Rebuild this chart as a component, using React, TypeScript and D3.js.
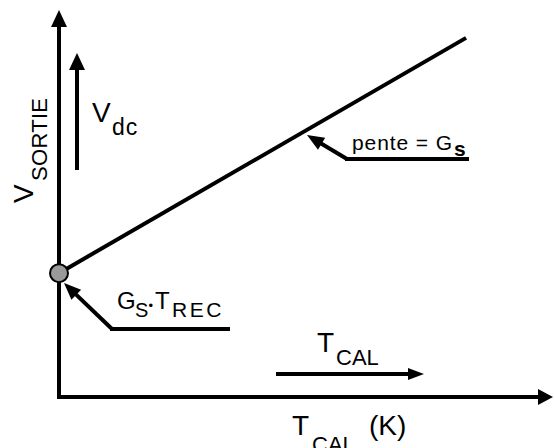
import React from "react";
import * as d3 from "d3";

// Output voltage vs calibration temperature: V = Gs * (T_CAL + T_REC)
const lineT = [0, 82.4];
const lineV = [32, 92.8];
const interceptT = [0];
const interceptV = [32];

const W = 554;
const H = 448;
const FONT = "'Liberation Sans', Arial, sans-serif";

const x = d3.scaleLinear().domain([0, 100]).range([59, 553]);
const y = d3.scaleLinear().domain([0, 100]).range([397, 10]);

const linePath = d3
  .line<number>()
  .x((_, i) => x(lineT[i]))
  .y((_, i) => y(lineV[i]))(lineT);

function Arrow({ x1, y1, x2, y2, head = 16, half = 8, sw = 4 }: any) {
  const ang = Math.atan2(y2 - y1, x2 - x1);
  const bx = x2 - head * Math.cos(ang);
  const by = y2 - head * Math.sin(ang);
  const px = -Math.sin(ang) * half;
  const py = Math.cos(ang) * half;
  return (
    <g>
      <line x1={x1} y1={y1} x2={bx + 2 * Math.cos(ang)} y2={by + 2 * Math.sin(ang)} stroke="#000" strokeWidth={sw} />
      <path d={`M${x2},${y2}L${bx + px},${by + py}L${bx - px},${by - py}Z`} fill="#000" />
    </g>
  );
}

export default function App() {
  const x0 = x(0);
  const y0 = y(0);
  return (
    <svg width={W} height={H} style={{ display: "block", position: "absolute", left: 0, top: 0 }} fontFamily={FONT}>
      <rect width={W} height={H} fill="#fff" />
      {/* axes */}
      <Arrow x1={x0} y1={y0 + 2} x2={x0} y2={y(100)} head={17} half={8} />
      <Arrow x1={x0 - 2} y1={y0} x2={x(100)} y2={y0} head={15} half={8} />

      {/* response line */}
      <path d={linePath!} stroke="#000" strokeWidth={4} fill="none" />
      {interceptT.map((t, i) => (
        <circle key={i} cx={x(t)} cy={y(interceptV[i])} r={9} fill="#999" stroke="#000" strokeWidth={2} />
      ))}

      {/* V_SORTIE axis label */}
      <g transform="translate(33,203) rotate(-90)">
        <text x={0} y={0} fontSize={28}>V</text>
        <text x={22} y={14} fontSize={22} letterSpacing={0.3}>SORTIE</text>
      </g>

      {/* V_dc arrow */}
      <Arrow x1={77} y1={170} x2={77} y2={53} head={17} half={8} />
      <text x={92} y={122} fontSize={28}>V</text>
      <text x={112} y={135} fontSize={23} letterSpacing={1}>dc</text>

      {/* slope annotation */}
      <Arrow x1={347} y1={159} x2={307} y2={135} head={17} half={7} />
      <line x1={345} y1={159} x2={469} y2={159} stroke="#000" strokeWidth={4} />
      <text x={352} y={150} fontSize={21} letterSpacing={0.9}>pente = G</text>
      <text x={454} y={156} fontSize={21} fontWeight="bold">s</text>

      {/* intercept annotation */}
      <Arrow x1={112} y1={329} x2={64} y2={283} head={17} half={7} />
      <line x1={110} y1={329} x2={230} y2={329} stroke="#000" strokeWidth={4} />
      <text x={117} y={309} fontSize={24}>G</text>
      <text x={135} y={317} fontSize={20}>S</text>
      <text x={148.5} y={310} fontSize={13}>•</text>
      <text x={155} y={309} fontSize={24}>T</text>
      <text x={172} y={317} fontSize={21} letterSpacing={2.5}>REC</text>

      {/* T_CAL arrow */}
      <Arrow x1={276} y1={374} x2={424} y2={374} head={16} half={6} />
      <text x={317} y={352} fontSize={28}>T</text>
      <text x={336} y={365} fontSize={22}>CAL</text>

      {/* x axis label */}
      <text x={292} y={435} fontSize={28}>T</text>
      <text x={312} y={452} fontSize={22}>CAL</text>
      <text x={369} y={435} fontSize={28}>(K)</text>
    </svg>
  );
}
